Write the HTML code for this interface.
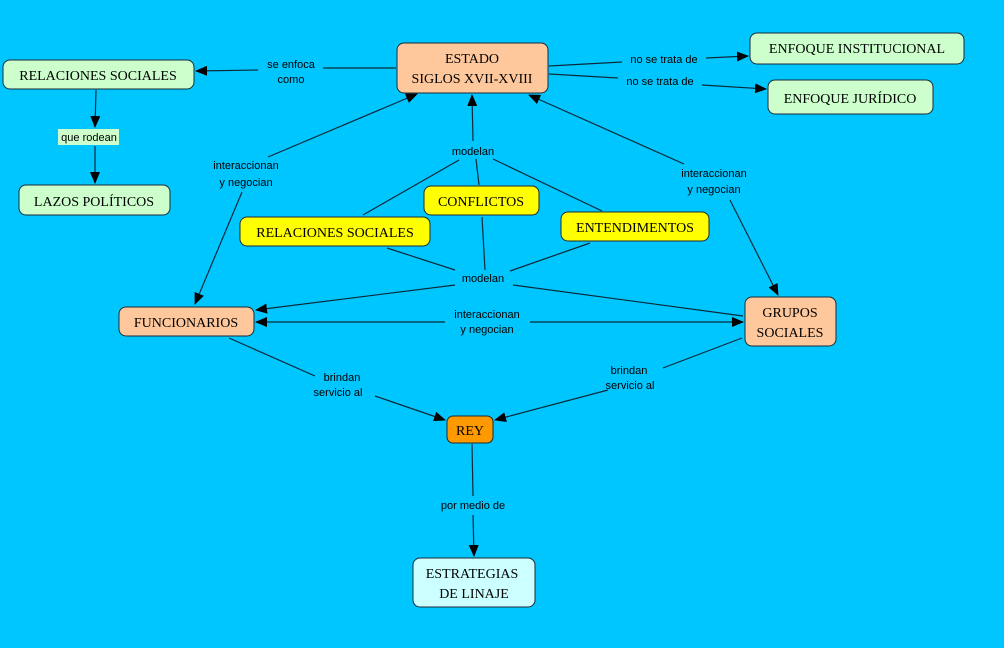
<!DOCTYPE html>
<html><head><meta charset="utf-8"><style>
html,body{margin:0;padding:0;background:#00c6ff;}
svg{display:block;}
.n{font-family:"Liberation Serif",serif;font-size:14px;fill:#000;text-anchor:middle;}
.l{font-family:"Liberation Sans",sans-serif;font-size:11px;fill:#000;text-anchor:middle;}
line,polyline{stroke:#0a2a3a;stroke-width:1.2;fill:none;}
</style></head><body>
<svg width="1004" height="648" viewBox="0 0 1004 648" xmlns="http://www.w3.org/2000/svg">
<defs><marker id="a" markerWidth="12" markerHeight="10" refX="11" refY="5" orient="auto" markerUnits="userSpaceOnUse"><path d="M0,0 L12,5 L0,10 z" fill="#000"/></marker></defs>
<rect width="1004" height="648" fill="#00c6ff"/>
<!-- connectors -->
<line x1="396" y1="68" x2="323" y2="68"/>
<line x1="258" y1="70" x2="196" y2="71" marker-end="url(#a)"/>
<line x1="549" y1="66" x2="622" y2="62"/>
<line x1="706" y1="58" x2="748" y2="56" marker-end="url(#a)"/>
<line x1="549" y1="74" x2="618" y2="78"/>
<line x1="702" y1="85" x2="766" y2="89" marker-end="url(#a)"/>
<line x1="96" y1="90" x2="95" y2="127" marker-end="url(#a)"/>
<line x1="95" y1="146" x2="95" y2="183" marker-end="url(#a)"/>
<line x1="268" y1="157" x2="417" y2="94" marker-end="url(#a)"/>
<line x1="242" y1="192" x2="195" y2="304" marker-end="url(#a)"/>
<line x1="684" y1="164" x2="529" y2="95" marker-end="url(#a)"/>
<line x1="730" y1="200" x2="778" y2="295" marker-end="url(#a)"/>
<line x1="473" y1="141" x2="472" y2="95" marker-end="url(#a)"/>
<line x1="459" y1="160" x2="363" y2="215"/>
<line x1="476" y1="159" x2="479" y2="185"/>
<line x1="493" y1="159" x2="602" y2="211"/>
<line x1="387" y1="248" x2="455" y2="270"/>
<line x1="482" y1="217" x2="485" y2="270"/>
<line x1="510" y1="271" x2="590" y2="243"/>
<line x1="455" y1="285" x2="256" y2="310" marker-end="url(#a)"/>
<line x1="513" y1="285" x2="743" y2="316"/>
<line x1="445" y1="322" x2="256" y2="322" marker-end="url(#a)"/>
<line x1="530" y1="322" x2="743" y2="322" marker-end="url(#a)"/>
<line x1="229" y1="338" x2="315" y2="376"/>
<line x1="375" y1="396" x2="445" y2="420" marker-end="url(#a)"/>
<line x1="742" y1="338" x2="663" y2="368"/>
<line x1="608" y1="390" x2="495" y2="420" marker-end="url(#a)"/>
<line x1="472" y1="444" x2="473" y2="496"/>
<line x1="473" y1="515" x2="474" y2="556" marker-end="url(#a)"/>
<!-- labels -->
<text class="l" x="291" y="68">se enfoca</text><text class="l" x="291" y="83">como</text>
<text class="l" x="664" y="63">no se trata de</text>
<text class="l" x="660" y="85">no se trata de</text>
<rect x="58" y="129" width="61" height="16" fill="#ccffcc"/><text class="l" x="89" y="141">que rodean</text>
<text class="l" x="246" y="169">interaccionan</text><text class="l" x="246" y="186">y negocian</text>
<text class="l" x="714" y="177">interaccionan</text><text class="l" x="714" y="193">y negocian</text>
<text class="l" x="473" y="155">modelan</text>
<text class="l" x="483" y="282">modelan</text>
<text class="l" x="487" y="318">interaccionan</text><text class="l" x="487" y="333">y negocian</text>
<text class="l" x="342" y="381">brindan</text><text class="l" x="338" y="396">servicio al</text>
<text class="l" x="629" y="374">brindan</text><text class="l" x="630" y="389">servicio al</text>
<text class="l" x="473" y="509">por medio de</text>
<!-- nodes -->
<g stroke="#1a2a33" stroke-width="1">
<rect x="397" y="43" width="151" height="50" rx="7" fill="#ffc89c"/>
<rect x="3" y="60" width="191" height="29" rx="7" fill="#ccffcc"/>
<rect x="19" y="185" width="151" height="30" rx="7" fill="#ccffcc"/>
<rect x="750" y="33" width="214" height="31" rx="7" fill="#ccffcc"/>
<rect x="768" y="80" width="165" height="34" rx="7" fill="#ccffcc"/>
<rect x="424" y="186" width="115" height="29" rx="7" fill="#ffff00"/>
<rect x="240" y="217" width="190" height="29" rx="7" fill="#ffff00"/>
<rect x="561" y="212" width="148" height="29" rx="7" fill="#ffff00"/>
<rect x="119" y="307" width="135" height="29" rx="7" fill="#ffc89c"/>
<rect x="745" y="297" width="91" height="49" rx="7" fill="#ffc89c"/>
<rect x="447" y="416" width="46" height="27" rx="6" fill="#ff9900"/>
<rect x="413" y="558" width="122" height="49" rx="7" fill="#ccffff"/>
</g>
<text class="n" x="472" y="63">ESTADO</text><text class="n" x="472" y="83">SIGLOS XVII-XVIII</text>
<text class="n" x="98" y="80">RELACIONES SOCIALES</text>
<text class="n" x="94" y="206">LAZOS POLÍTICOS</text>
<text class="n" x="857" y="53">ENFOQUE INSTITUCIONAL</text>
<text class="n" x="850" y="103">ENFOQUE JURÍDICO</text>
<text class="n" x="481" y="206">CONFLICTOS</text>
<text class="n" x="335" y="237">RELACIONES SOCIALES</text>
<text class="n" x="635" y="232">ENTENDIMENTOS</text>
<text class="n" x="186" y="327">FUNCIONARIOS</text>
<text class="n" x="790" y="317">GRUPOS</text><text class="n" x="790" y="337">SOCIALES</text>
<text class="n" x="470" y="435">REY</text>
<text class="n" x="472" y="578">ESTRATEGIAS</text><text class="n" x="474" y="598">DE LINAJE</text>
</svg>
</body></html>
